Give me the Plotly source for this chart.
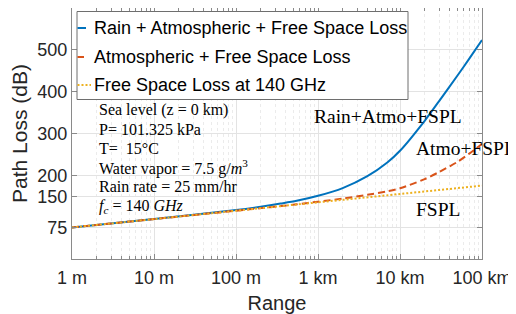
import plotly.graph_objects as go

# ---- data ----
range_m = [1, 10, 100, 200, 350, 550, 1000, 2000, 4000, 7000, 10000,
           20000, 30000, 50000, 70000, 100000]
rain_atmo_fspl = [75.5, 95.5, 117.0, 125.0, 132.4, 139.0, 151.0, 169.5, 198.0,
                  230.8, 258.8, 330.4, 377.5, 438.0, 479.0, 523.5]
atmo_fspl = [75.4, 95.4, 115.5, 121.6, 126.6, 130.7, 137.0, 144.5, 153.5,
             162.0, 169.0, 191.0, 208.0, 232.0, 252.0, 275.0]
fspl = [75.4, 95.4, 115.4, 121.4, 126.3, 130.2, 135.4, 141.4, 147.4,
        152.3, 155.4, 161.4, 164.9, 169.4, 172.3, 175.4]

series_names = ["Rain + Atmospheric + Free Space Loss",
                "Atmospheric + Free Space Loss",
                "Free Space Loss at 140 GHz"]
x_tickvals = [1, 10, 100, 1000, 10000, 100000]
x_ticktext = ["1 m", "10 m", "100 m", "1 km", "10 km", "100 km"]
y_tickvals = [75, 150, 200, 300, 400, 500]
info_lines = ["Sea level (z = 0 km)", "P= 101.325 kPa", "T=  15°C",
              "Water vapor = 7.5 g/<i>m</i><sup>3</sup>",
              "Rain rate = 25 mm/hr",
              "<i>f</i><sub><i>c</i></sub> = 140 <i>GHz</i>"]
curve_labels = ["Rain+Atmo+FSPL", "Atmo+FSPL", "FSPL"]

BLUE, ORANGE, YELLOW = "#0072BD", "#D95319", "#EDB120"
SANS = "Liberation Sans, Arial, Helvetica, sans-serif"
SERIF = "Liberation Serif, Times New Roman, serif"
TXT = "#262626"

OFF = 8  # page body margin offset
W, H = 516 - OFF, 314 - OFF
L, R, T, B = 72 - OFF, 34, 0, 55
PW, PH = W - L - R, H - T - B


def px(x):
    return (x - OFF - L) / PW


def py(y):
    return (H - B - (y - OFF)) / PH


fig = go.Figure()
fig.add_trace(go.Scatter(x=range_m, y=rain_atmo_fspl, mode="lines", name=series_names[0],
                         line=dict(color=BLUE, width=2, shape="spline", smoothing=0.8),
                         showlegend=False))
fig.add_trace(go.Scatter(x=range_m, y=atmo_fspl, mode="lines", name=series_names[1],
                         line=dict(color=ORANGE, width=2, dash="7px,4px", shape="spline",
                                   smoothing=0.8),
                         showlegend=False))
fig.add_trace(go.Scatter(x=range_m, y=fspl, mode="lines", name=series_names[2],
                         line=dict(color=YELLOW, width=2, dash="2px,2px"),
                         showlegend=False))

axis_common = dict(showline=True, linecolor="#8a8a8a", linewidth=1, mirror="ticks",
                   ticks="inside", ticklen=5, tickcolor="#8a8a8a",
                   showgrid=True, gridcolor="#e3e3e3", gridwidth=1, zeroline=False,
                   tickfont=dict(family=SANS, size=18, color=TXT))

fig.update_xaxes(type="log", range=[0, 5], tickvals=x_tickvals, ticktext=x_ticktext,
                 minor=dict(dtick="D1", ticks="inside", ticklen=3, tickcolor="#8a8a8a",
                            showgrid=True, gridcolor="#ebebeb", griddash="dot"),
                 ticklabelstandoff=2,
                 title=dict(text="Range", font=dict(family=SANS, size=20, color=TXT),
                            standoff=11),
                 **axis_common)
fig.update_yaxes(range=[0, 600], tickvals=y_tickvals,
                 ticklabelstandoff=0,
                 title=dict(text="Path Loss (dB)", font=dict(family=SANS, size=21, color=TXT),
                            standoff=6),
                 **axis_common)

shapes = []
annotations = []
# legend box
shapes.append(dict(type="rect", xref="paper", yref="paper",
                   x0=px(77), x1=px(408), y0=py(99.5), y1=py(11.5),
                   line=dict(color="#6e6e6e", width=1), fillcolor="white", layer="above"))
leg_y = [28, 57, 85]
samples = [(77.5, 86, BLUE, "solid"), (77.5, 84, ORANGE, "solid"), (77.5, 91, YELLOW, "2px,2px")]
for (x0, x1, c, d), yy, name in zip(samples, leg_y, series_names):
    shapes.append(dict(type="line", xref="paper", yref="paper", x0=px(x0), x1=px(x1),
                       y0=py(yy), y1=py(yy), line=dict(color=c, width=2, dash=d),
                       layer="above"))
    annotations.append(dict(text=name, xref="paper", yref="paper", x=px(92), y=py(yy),
                            xanchor="left", yanchor="middle", showarrow=False,
                            font=dict(family=SANS, size=18, color="#000000")))

info_y = [110, 129, 148.3, 167.3, 186.7, 206.7]
for t, yy in zip(info_lines, info_y):
    annotations.append(dict(text=t, xref="paper", yref="paper", x=px(97), y=py(yy),
                            xanchor="left", yanchor="middle", showarrow=False,
                            font=dict(family=SERIF, size=16, color="#000000")))

lab_pos = [(312, 117), (414, 148), (414, 209)]
for t, (xx, yy) in zip(curve_labels, lab_pos):
    annotations.append(dict(text=t, xref="paper", yref="paper", x=px(xx), y=py(yy),
                            xanchor="left", yanchor="middle", showarrow=False,
                            font=dict(family=SERIF, size=19.5, color="#000000")))

fig.update_layout(width=W, height=H, margin=dict(l=L, r=R, t=T, b=B, autoexpand=False),
                  paper_bgcolor="white", plot_bgcolor="white",
                  shapes=shapes, annotations=annotations, showlegend=False)

fig.write_html("out.html")
